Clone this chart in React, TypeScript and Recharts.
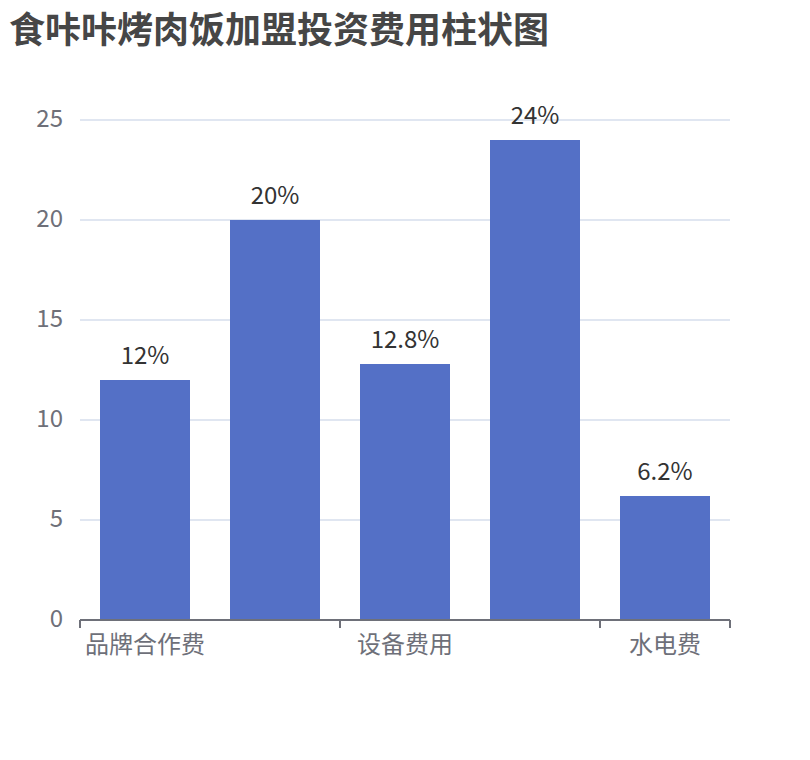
import { BarChart, Bar, XAxis, YAxis, CartesianGrid, LabelList } from 'recharts'

const categories = ['品牌合作费', '店面租金', '设备费用', '装修费用', '水电费']
const costs = [12, 20, 12.8, 24, 6.2]
const yTicks = [0, 5, 10, 15, 20, 25]

const data = categories.map((name, i) => ({ name, value: costs[i] }))

const FONT = '"Noto Sans CJK SC", "Noto Sans", sans-serif'
const AXIS_COLOR = '#6E7079'
const PLOT_LEFT = 80
const PLOT_RIGHT = 80
const CHART_W = 810
const BAND = (CHART_W - PLOT_LEFT - PLOT_RIGHT) / categories.length

function CategoryTick(props: any) {
  const { x, y, payload } = props
  const idx = payload.index
  const axisY = y - 16
  const isLast = idx === categories.length - 1
  return (
    <g>
      <line x1={x - BAND / 2} y1={axisY} x2={x - BAND / 2} y2={axisY + 8} stroke={AXIS_COLOR} strokeWidth={2} />
      {isLast && (
        <line x1={x + BAND / 2} y1={axisY} x2={x + BAND / 2} y2={axisY + 8} stroke={AXIS_COLOR} strokeWidth={2} />
      )}
      <text x={x} y={y} dy="0.71em" textAnchor="middle" fill={AXIS_COLOR} fontSize={24} fontFamily={FONT}>
        {payload.value}
      </text>
    </g>
  )
}

export default function App() {
  return (
    <div style={{ position: 'absolute', left: 0, top: 0, width: 810, height: 760, background: '#fff' }}>
      <div
        style={{
          position: 'absolute',
          left: 9,
          top: 9,
          fontSize: 36,
          lineHeight: '36px',
          fontWeight: 'bold',
          color: '#464646',
          fontFamily: FONT,
        }}
      >
        食咔咔烤肉饭加盟投资费用柱状图
      </div>
      <BarChart
        width={810}
        height={760}
        data={data}
        margin={{ top: 120, right: PLOT_RIGHT, bottom: 100, left: 0 }}
      >
        <CartesianGrid vertical={false} stroke="#E0E6F1" strokeWidth={2} />
        <XAxis
          dataKey="name"
          interval={1}
          height={40}
          tickLine={false}
          tickSize={0}
          tickMargin={16}
          axisLine={{ stroke: AXIS_COLOR, strokeWidth: 2 }}
          tick={<CategoryTick />}
        />
        <YAxis
          width={PLOT_LEFT}
          domain={[0, 25]}
          ticks={yTicks}
          axisLine={false}
          tickLine={false}
          tickSize={0}
          tickMargin={17}
          tick={{ fill: AXIS_COLOR, fontSize: 24, fontFamily: FONT, dy: -2 }}
        />
        <Bar dataKey="value" fill="#5470c6" barSize={90} isAnimationActive={false}>
          <LabelList
            dataKey="value"
            position="top"
            offset={16}
            formatter={(v: any) => `${v}%`}
            fill="#333"
            fontSize={24}
            fontFamily={FONT}
          />
        </Bar>
      </BarChart>
    </div>
  )
}
